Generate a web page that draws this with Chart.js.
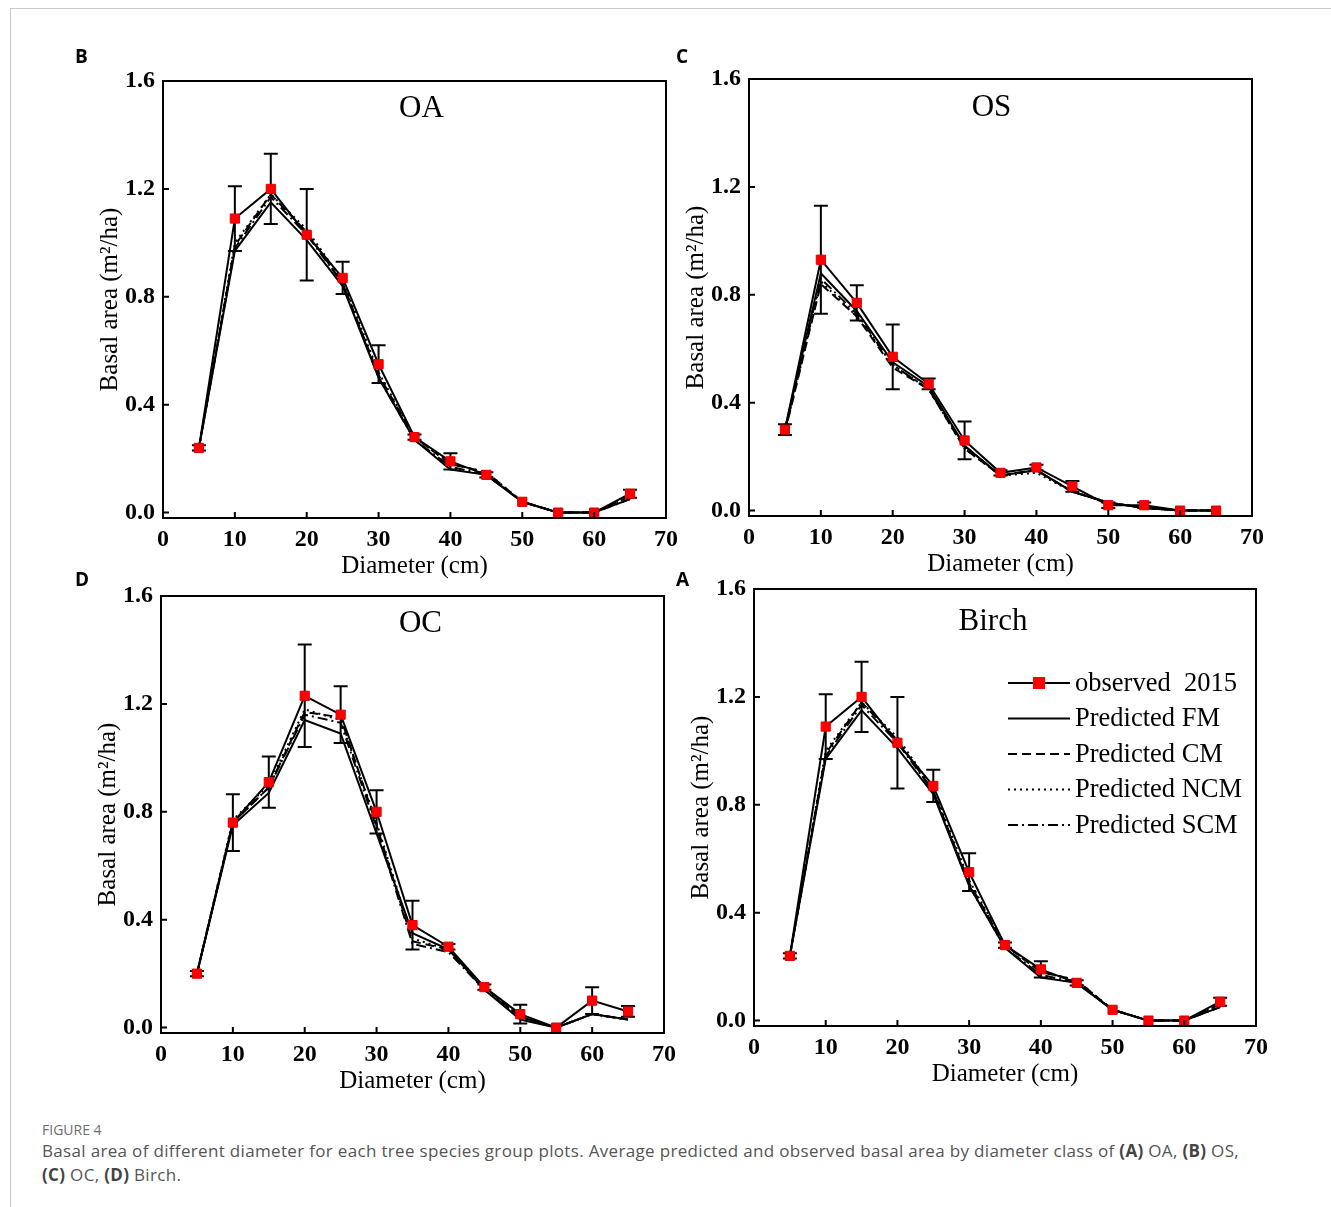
<!DOCTYPE html>
<html>
<head>
<meta charset="utf-8">
<script src="https://cdn.jsdelivr.net/npm/chart.js@4.4.1/dist/chart.umd.min.js"></script>
<style>
  body { margin: 0; background: #fff; }
  #page { position: relative; width: 1331px; height: 1207px; overflow: hidden; }
  #card { position: absolute; left: 10px; top: 8px; width: 1330px; height: 1210px;
          border-top: 1px solid #c9c9c9; border-left: 1px solid #c9c9c9; }
  canvas { position: absolute; }
  .tag { position: absolute; font: bold 19px "Open Sans", Arial, sans-serif; color: #000; }
  #figno { position: absolute; left: 42px; top: 1120px; font: 14px "Open Sans", sans-serif; color: #6e6e6e; }
  #caption { position: absolute; left: 42px; top: 1139px; width: 1270px; font: 17px/24px "Open Sans", sans-serif;
             letter-spacing: 0.33px; color: #555; }
  #caption b { color: #444; }
</style>
</head>
<body>
<div id="page">
  <div id="card"></div>
  <canvas id="chartB" width="600" height="532" style="left:85px;top:58px"></canvas>
  <canvas id="chartC" width="600" height="532" style="left:671px;top:56px"></canvas>
  <canvas id="chartD" width="600" height="532" style="left:83px;top:573px"></canvas>
  <canvas id="chartA" width="599" height="532" style="left:676px;top:566px"></canvas>
  <div class="tag" style="left:75px;top:43px">B</div>
  <div class="tag" style="left:676px;top:43px">C</div>
  <div class="tag" style="left:75px;top:566px">D</div>
  <div class="tag" style="left:676px;top:566px">A</div>
  <div id="figno">FIGURE 4</div>
  <div id="caption">Basal area of different diameter for each tree species group plots. Average predicted and observed basal area by diameter class of <b>(A)</b> OA, <b>(B)</b> OS,<br><b>(C)</b> OC, <b>(D)</b> Birch.</div>
</div>
<script>
// 径級 (cm)
var diameters = [5, 10, 15, 20, 25, 30, 35, 40, 45, 50, 55, 60, 65];
var xTicks = [0, 10, 20, 30, 40, 50, 60, 70];
var yTicks = [0, 0.4, 0.8, 1.2, 1.6];
var seriesLabels = ["observed  2015", "Predicted FM", "Predicted CM", "Predicted NCM", "Predicted SCM"];

// OA
var oaObserved = [0.24, 1.09, 1.20, 1.03, 0.87, 0.55, 0.28, 0.19, 0.14, 0.04, 0.00, 0.00, 0.07];
var oaError    = [0.01, 0.12, 0.13, 0.17, 0.06, 0.07, 0.01, 0.03, 0.01, 0.00, 0.00, 0.00, 0.015];
var oaFM  = [0.24, 0.97, 1.15, 1.01, 0.84, 0.50, 0.27, 0.16, 0.14, 0.04, 0.00, 0.00, 0.05];
var oaCM  = [0.24, 0.99, 1.18, 1.04, 0.85, 0.51, 0.28, 0.18, 0.15, 0.04, 0.00, 0.00, 0.06];
var oaNCM = [0.24, 1.00, 1.18, 1.05, 0.86, 0.52, 0.28, 0.18, 0.15, 0.04, 0.00, 0.00, 0.06];
var oaSCM = [0.24, 0.98, 1.17, 1.03, 0.85, 0.50, 0.27, 0.17, 0.14, 0.04, 0.00, 0.00, 0.05];

// OS
var osObserved = [0.30, 0.93, 0.77, 0.57, 0.47, 0.26, 0.14, 0.16, 0.09, 0.02, 0.02, 0.00, 0.00];
var osError    = [0.02, 0.20, 0.065, 0.12, 0.02, 0.07, 0.01, 0.01, 0.02, 0.01, 0.01, 0.00, 0.00];
var osFM  = [0.30, 0.88, 0.74, 0.55, 0.46, 0.24, 0.13, 0.15, 0.07, 0.03, 0.01, 0.00, 0.00];
var osCM  = [0.29, 0.84, 0.72, 0.53, 0.45, 0.23, 0.13, 0.15, 0.07, 0.03, 0.01, 0.00, 0.00];
var osNCM = [0.29, 0.85, 0.72, 0.54, 0.45, 0.23, 0.13, 0.14, 0.07, 0.03, 0.01, 0.00, 0.00];
var osSCM = [0.30, 0.86, 0.73, 0.54, 0.45, 0.24, 0.13, 0.15, 0.07, 0.03, 0.01, 0.00, 0.00];

// OC
var ocObserved = [0.20, 0.76, 0.91, 1.23, 1.16, 0.80, 0.38, 0.30, 0.15, 0.05, 0.00, 0.10, 0.06];
var ocError    = [0.01, 0.105, 0.095, 0.19, 0.105, 0.08, 0.09, 0.01, 0.01, 0.035, 0.00, 0.05, 0.02];
var ocFM  = [0.20, 0.75, 0.87, 1.14, 1.09, 0.72, 0.35, 0.29, 0.14, 0.03, 0.00, 0.05, 0.03];
var ocCM  = [0.20, 0.76, 0.89, 1.17, 1.15, 0.75, 0.32, 0.29, 0.15, 0.04, 0.00, 0.05, 0.03];
var ocNCM = [0.20, 0.77, 0.90, 1.18, 1.14, 0.76, 0.33, 0.29, 0.15, 0.04, 0.00, 0.05, 0.03];
var ocSCM = [0.20, 0.76, 0.89, 1.16, 1.13, 0.74, 0.31, 0.28, 0.14, 0.04, 0.00, 0.05, 0.03];

// Birch
var birchObserved = [0.24, 1.09, 1.20, 1.03, 0.87, 0.55, 0.28, 0.19, 0.14, 0.04, 0.00, 0.00, 0.07];
var birchError    = [0.01, 0.12, 0.13, 0.17, 0.06, 0.07, 0.01, 0.03, 0.01, 0.00, 0.00, 0.00, 0.015];
var birchFM  = [0.24, 0.97, 1.15, 1.01, 0.84, 0.50, 0.27, 0.16, 0.14, 0.04, 0.00, 0.00, 0.05];
var birchCM  = [0.24, 0.99, 1.18, 1.04, 0.85, 0.51, 0.28, 0.18, 0.15, 0.04, 0.00, 0.00, 0.06];
var birchNCM = [0.24, 1.00, 1.18, 1.05, 0.86, 0.52, 0.28, 0.18, 0.15, 0.04, 0.00, 0.00, 0.06];
var birchSCM = [0.24, 0.98, 1.17, 1.03, 0.85, 0.50, 0.27, 0.17, 0.14, 0.04, 0.00, 0.00, 0.05];

var dashes = [[], [], [9, 5], [2, 4], [10, 4, 2, 4]];
var serif = '"Liberation Serif", "Times New Roman", serif';

Chart.defaults.font.family = serif;
Chart.defaults.color = '#000';

function pts(vals) {
  return diameters.map(function (d, i) { return { x: d, y: vals[i] }; });
}

// 枠・内向き目盛り・誤差棒・凡例を描くプラグイン
var framePlugin = {
  id: 'frame',
  beforeDatasetsDraw: function (chart, args, opts) {
    var ctx = chart.ctx, x = chart.scales.x, y = chart.scales.y;
    var obs = opts.observed, err = opts.errors;
    ctx.save();
    ctx.strokeStyle = '#000';
    ctx.lineWidth = 2;
    ctx.beginPath();
    diameters.forEach(function (d, i) {
      if (!err[i]) return;
      var px = x.getPixelForValue(d);
      var top = y.getPixelForValue(obs[i] + err[i]);
      var bot = y.getPixelForValue(obs[i] - err[i]);
      ctx.moveTo(px, top); ctx.lineTo(px, bot);
      ctx.moveTo(px - 7, top); ctx.lineTo(px + 7, top);
      ctx.moveTo(px - 7, bot); ctx.lineTo(px + 7, bot);
    });
    ctx.stroke();
    ctx.restore();
  },
  afterDraw: function (chart, args, opts) {
    var ctx = chart.ctx, a = chart.chartArea, x = chart.scales.x, y = chart.scales.y;
    ctx.save();
    ctx.strokeStyle = '#000';
    ctx.lineWidth = 2;
    ctx.strokeRect(a.left, a.top, a.right - a.left, a.bottom - a.top);
    ctx.beginPath();
    x.ticks.forEach(function (t) {
      var px = x.getPixelForValue(t.value);
      ctx.moveTo(px, a.bottom); ctx.lineTo(px, a.bottom - 6);
    });
    y.ticks.forEach(function (t) {
      var py = y.getPixelForValue(t.value);
      ctx.moveTo(a.left, py); ctx.lineTo(a.left + 6, py);
    });
    ctx.stroke();

    ctx.fillStyle = '#000';
    ctx.font = '31px ' + serif;
    ctx.textAlign = 'center';
    ctx.textBaseline = 'middle';
    ctx.fillText(opts.title, (a.left + a.right) / 2 + opts.titleShift[0], a.top + opts.titleShift[1]);

    if (opts.legend) {
      ctx.font = '26.5px ' + serif;
      ctx.textAlign = 'left';
      chart.data.datasets.forEach(function (ds, i) {
        var ly = a.top + 94 + i * 35.5;
        var x0 = a.left + 254, x1 = a.left + 316;
        ctx.setLineDash(dashes[i]);
        ctx.beginPath();
        ctx.moveTo(x0, ly); ctx.lineTo(x1, ly);
        ctx.stroke();
        ctx.setLineDash([]);
        if (i === 0) {
          ctx.fillStyle = '#ff0000';
          ctx.fillRect((x0 + x1) / 2 - 6, ly - 6, 12, 12);
          ctx.fillStyle = '#000';
        }
        ctx.fillText(ds.label, a.left + 321, ly + 1);
      });
    }
    ctx.restore();
  }
};

function makePanel(id, title, titleShift, observed, errors, fm, cm, ncm, scm, legend) {
  var series = [observed, fm, cm, ncm, scm];
  var datasets = series.map(function (vals, i) {
    var ds = {
      label: seriesLabels[i],
      data: pts(vals),
      borderColor: '#000',
      borderWidth: 2,
      borderDash: dashes[i],
      pointRadius: 0,
      tension: 0,
      fill: false
    };
    if (i === 0) {
      ds.pointStyle = 'rect';
      ds.pointRadius = 6.5;
      ds.pointBackgroundColor = '#ff0000';
      ds.pointBorderColor = '#e00000';
      ds.pointBorderWidth = 1;
    }
    return ds;
  });

  return new Chart(document.getElementById(id), {
    type: 'line',
    data: { datasets: datasets },
    plugins: [framePlugin],
    options: {
      responsive: false,
      animation: false,
      devicePixelRatio: 1,
      layout: { padding: { left: 0, top: 23, right: 19, bottom: 0 } },
      plugins: {
        legend: { display: false },
        tooltip: { enabled: false },
        frame: { title: title, titleShift: titleShift, observed: observed, errors: errors, legend: legend }
      },
      scales: {
        x: {
          type: 'linear',
          min: 0,
          max: 70,
          afterBuildTicks: function (s) { s.ticks = xTicks.map(function (v) { return { value: v }; }); },
          afterFit: function (s) { s.height = 72; },
          ticks: { font: { size: 24, weight: 'bold' }, color: '#000', padding: 7, maxRotation: 0, autoSkip: false },
          grid: { display: false, drawTicks: false },
          border: { display: false },
          title: { display: true, text: 'Diameter (cm)', font: { size: 25 }, color: '#000', padding: { top: 0, bottom: 9 } }
        },
        y: {
          type: 'linear',
          min: -0.02,
          max: 1.6,
          afterBuildTicks: function (s) { s.ticks = yTicks.map(function (v) { return { value: v }; }); },
          afterFit: function (s) { s.width = 78; },
          ticks: {
            font: { size: 24, weight: 'bold' }, color: '#000', padding: 8, autoSkip: false,
            callback: function (v) { return v.toFixed(1); }
          },
          grid: { display: false, drawTicks: false },
          border: { display: false },
          title: { display: true, text: 'Basal area (m²/ha)', font: { size: 25 }, color: '#000', padding: { top: 10, bottom: 0 } }
        }
      }
    }
  });
}

makePanel('chartB', 'OA', [7, 28], oaObserved, oaError, oaFM, oaCM, oaNCM, oaSCM, false);
makePanel('chartC', 'OS', [-9, 29], osObserved, osError, osFM, osCM, osNCM, osSCM, false);
makePanel('chartD', 'OC', [8, 28], ocObserved, ocError, ocFM, ocCM, ocNCM, ocSCM, false);
makePanel('chartA', 'Birch', [-12, 33], birchObserved, birchError, birchFM, birchCM, birchNCM, birchSCM, true);
</script>
</body>
</html>
